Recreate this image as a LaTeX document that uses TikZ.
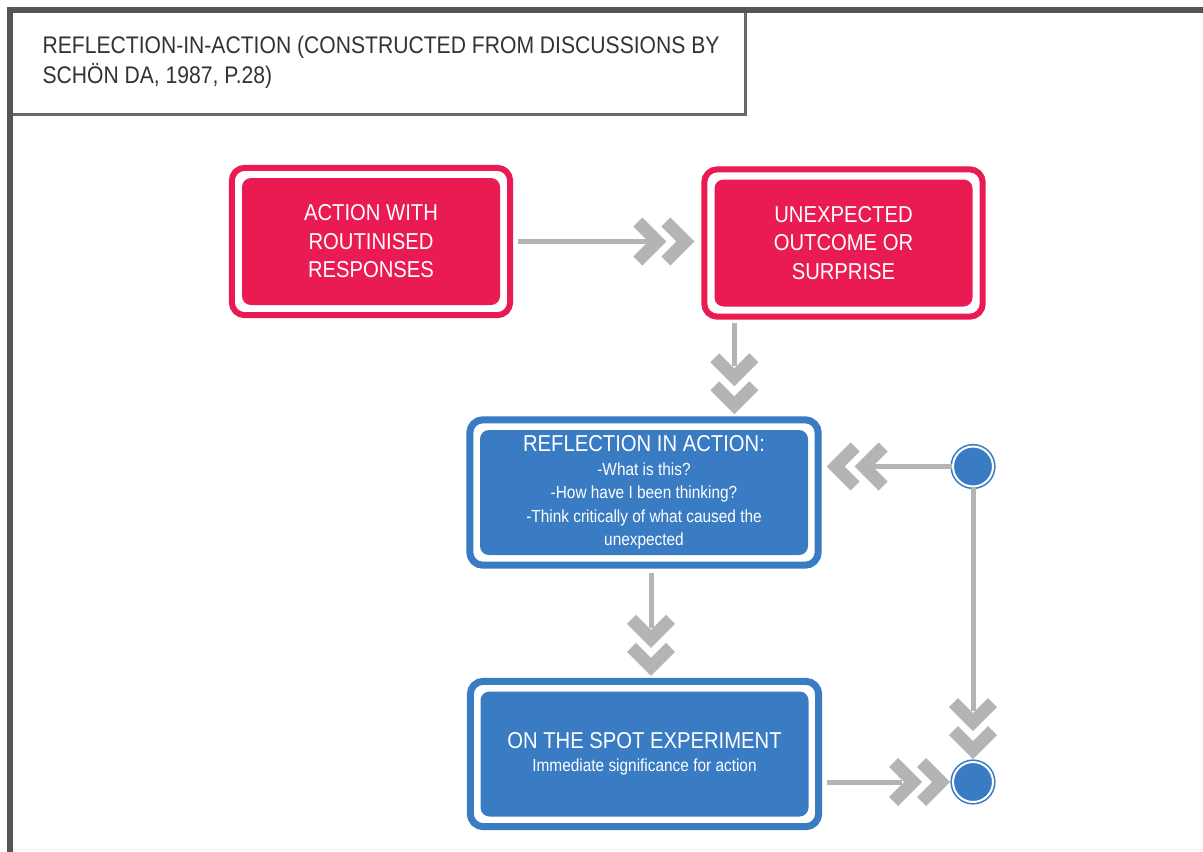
\documentclass[tikz,border=0pt]{standalone}
\usepackage{fontspec}
\setmainfont{Liberation Sans}[FakeStretch=0.88]
\usetikzlibrary{fit,calc}
\definecolor{boxred}{RGB}{233,27,82}
\definecolor{boxblue}{RGB}{58,124,195}
\definecolor{conngray}{RGB}{180,180,180}
\definecolor{framegray}{RGB}{85,85,85}
\definecolor{titlegray}{RGB}{105,105,105}
\tikzset{
  redbox/.style={fill=boxred, rounded corners=9, text=white, align=center,
    inner sep=0, minimum width=258, minimum height=127,
    font=\fontsize{23}{28.5}\selectfont},
  bluebox/.style={fill=boxblue, rounded corners=9, text=white, align=center,
    inner sep=0, minimum width=328, minimum height=125,
    font=\fontsize{17.5}{23.5}\selectfont},
  redframe/.style={draw=boxred, line width=6, rounded corners=13, inner sep=10},
  blueframe/.style={draw=boxblue, line width=7, rounded corners=13, inner sep=10},
  dot/.style={circle, fill=boxblue, draw=boxblue, double=white,
    double distance=2, line width=1.6, minimum size=40, inner sep=0},
  conn/.style={draw=conngray, line width=5},
  chevron/.style={draw=conngray, line width=12.7, line join=miter, line cap=butt},
  pics/twochev/.style={code={
    \draw[chevron] (-28.5,-19.5) -- (-9,0) -- (-28.5,19.5);
    \draw[chevron] (-56.5,-19.5) -- (-37,0) -- (-56.5,19.5);
  }}
}
\begin{document}
\begin{tikzpicture}[x=1pt,y=-1pt]
\useasboundingbox (0,0) rectangle (1203,852);
\fill[white] (0,0) rectangle (1203,852);

% outer frame and title panel
\fill[framegray] (7,7) rectangle (1203,13);
\fill[framegray] (7,7) rectangle (13,852);
\draw[gray!12, line width=1] (13,849.5) -- (1203,849.5);
\draw[titlegray, line width=3.5] (13,114.5) -- (745.5,114.5) -- (745.5,13);
\node[anchor=west, align=left, text=black!80,
  font=\fontsize{24}{30}\selectfont] (title) at (39,62)
  {REFLECTION-IN-ACTION (CONSTRUCTED FROM DISCUSSIONS BY\\SCHÖN DA, 1987, P.28)};

% process boxes
\node[redbox] (act) at (371,241.5) {ACTION WITH\\ROUTINISED\\RESPONSES};
\node[redframe, fit=(act)] (actf) {};
\node[redbox] (unx) at (843.5,243) {UNEXPECTED\\OUTCOME OR\\SURPRISE};
\node[redframe, fit=(unx)] (unxf) {};

\node[bluebox] (ria) at (644,492.5)
  {{\fontsize{23}{23.5}\selectfont REFLECTION IN ACTION:}\\-What is this?\\
   -How have I been thinking?\\-Think critically of what caused the\\unexpected};
\node[blueframe, fit=(ria)] (riaf) {};
\node[bluebox] (spot) at (644.5,754)
  {{\fontsize{23}{23}\selectfont ON THE SPOT EXPERIMENT}\\Immediate significance for action};
\node[blueframe, fit=(spot)] (spotf) {};

% junction dots
\node[dot] (c1) at (973,466.5) {};
\node[dot] (c2) at (973,782) {};

% connectors
\draw[conn] ($(actf.east)+(5,0)$) -- ($(unxf.west |- actf.east)+(-50,0)$);
\pic at ($(unxf.west |- actf.east)+(-7,0)$) {twochev};

\coordinate (a2) at ($(unxf.south west)+(33,0)$);
\draw[conn] ($(a2)+(0,3)$) -- ($(a2 |- riaf.north)+(0,-50)$);
\pic[rotate=-90] at ($(a2 |- riaf.north)+(0,-2)$) {twochev};

\draw[conn] (c1.west) -- ($(riaf.east |- c1)+(50,0)$);
\pic[rotate=180] at ($(riaf.east |- c1)+(5,0)$) {twochev};

\coordinate (a4) at ($(riaf.south)+(7,0)$);
\draw[conn] ($(a4)+(0,4)$) -- ($(a4 |- spotf.north)+(0,-50)$);
\pic[rotate=-90] at ($(a4 |- spotf.north)+(0,-2)$) {twochev};

\draw[conn] (c1.south) -- ($(c2.north)+(0,-50)$);
\pic[rotate=-90] at ($(c2.north)+(0,-2)$) {twochev};

\draw[conn] ($(spotf.east |- c2)+(5,0)$) -- ($(c2.west)+(-50,0)$);
\pic at ($(c2.west)+(-2,0)$) {twochev};
\end{tikzpicture}
\end{document}
